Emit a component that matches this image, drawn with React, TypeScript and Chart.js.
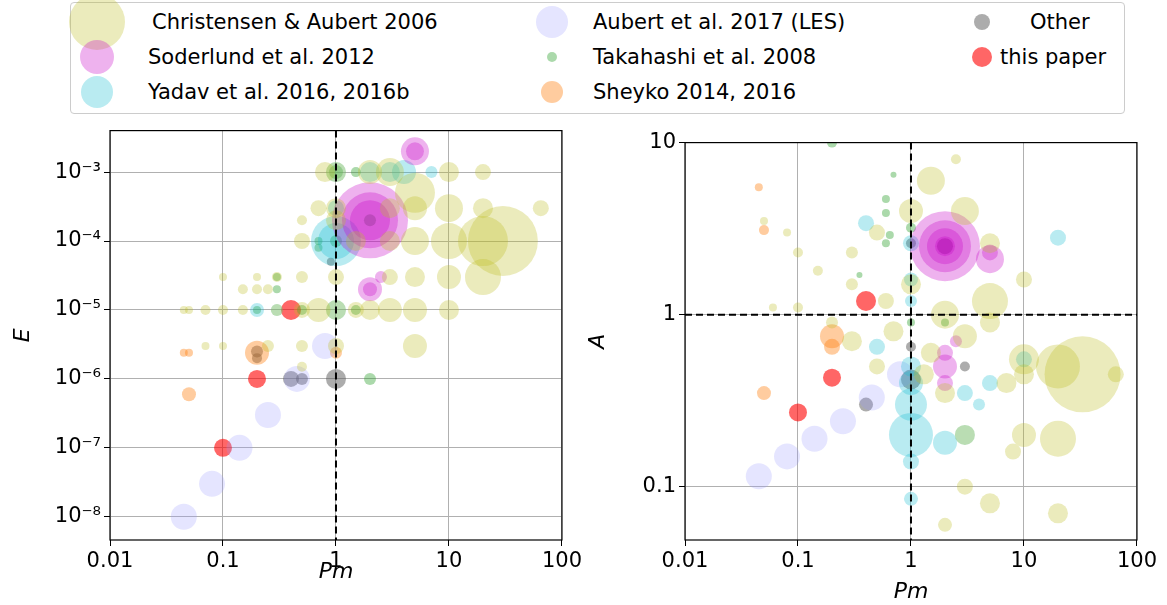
import React, { useEffect, useRef } from 'react';
import Chart from 'chart.js/auto';

type P = [number, number, number];

// Left panel: [Pm, E, radius]
const caLeft: P[] = [[1,1e-3,10],[2,1e-3,12],[3,1e-3,14],[5,5e-4,20],[10,1e-3,10],[20,1e-3,8],[1,3e-4,10],[3,3e-4,10],[5,3e-4,12],[10,3e-4,14],[20,3e-4,10],[65,3e-4,8],[30,1e-4,35],[20,1e-4,25],[10,1e-4,18],[5,1e-4,14],[3,1e-4,10],[1.5,1e-4,10],[0.5,1e-4,8],[20,3e-5,18],[10,3e-5,12],[5,3e-5,10],[3,3e-5,8],[1,3e-5,8],[0.5,3e-5,6],[0.3,3e-5,5],[0.2,3e-5,4],[0.1,3e-5,4],[10,1e-5,10],[5,1e-5,12],[3,1e-5,12],[2,1e-5,10],[1.5,1e-5,8],[1,1e-5,10],[0.7,1e-5,12],[0.5,1e-5,8],[0.3,1e-5,6],[0.15,1e-5,5],[0.1,1e-5,5],[0.07,1e-5,5],[0.05,1e-5,4],[0.045,1e-5,4],[0.2,2e-5,5],[0.25,2e-5,5],[0.15,2e-5,5],[5,3e-6,12],[1,3e-6,8],[0.5,3e-6,6],[0.25,3e-6,6],[0.1,3e-6,4],[0.07,3e-6,4],[0.5,1.5e-6,5],[1,2e-4,10],[0.7,3e-4,8],[0.5,2e-4,5],[0.8,1e-3,10]];
const sodLeft: P[] = [[2,2e-4,38],[2,2e-4,28],[2,2e-4,20],[5,2e-3,14],[5,2e-3,9],[2,2e-5,12],[2,2e-5,7],[2.5,3e-5,6]];
const yadLeft: P[] = [[1,1e-4,25],[1,1e-4,18],[1,1e-5,10],[1,1e-3,10],[2,1e-3,10],[3,1e-3,10],[4,1e-3,12],[7,1e-3,6],[1,3e-4,8],[0.2,1e-5,7],[0.3,1e-5,6]];
const lesLeft: P[] = [[0.045,1e-8,13],[0.08,3e-8,13],[0.14,1e-7,13],[0.25,3e-7,13],[0.45,1e-6,13],[0.8,3e-6,13]];
const takLeft: P[] = [[0.7,1e-4,4],[0.7,8e-5,4],[0.3,3e-5,4],[0.2,1e-5,4],[0.5,1e-5,5],[1,1e-4,6],[1,1e-3,7],[2,2e-4,6],[2,1e-6,6],[1.5,1e-5,5],[0.3,2e-5,4],[1.5,1e-3,5]];
const sheLeft: P[] = [[0.05,6e-7,7],[0.045,2.4e-6,4],[0.05,2.4e-6,4],[0.2,2.4e-6,12],[1,2.4e-6,6]];
const othLeft: P[] = [[1,1e-6,10],[0.4,1e-6,8],[0.2,2.5e-6,6],[0.2,2e-6,5],[0.9,5e-5,4],[0.5,1e-6,6]];
const redLeft: P[] = [[0.1,1e-7,9],[0.2,1e-6,9],[0.4,1e-5,10]];

// Right panel: [Pm, A, radius]
const caRight: P[] = [[33,0.45,38],[20,0.5,22],[10,0.55,15],[20,0.19,18],[10,0.2,12],[10,0.45,10],[5,1.2,18],[3,4,14],[1.5,6,14],[1,4,12],[0.5,3,8],[0.3,2.3,6],[1,1.5,10],[2,1,14],[3,0.75,12],[5,0.9,10],[7,0.4,10],[0.5,0.5,8],[0.3,0.7,10],[0.2,0.9,6],[0.1,2.3,5],[0.08,3,4],[0.05,3.5,4],[0.7,0.8,10],[1.5,0.6,10],[2,0.35,10],[3,0.2,10],[3,0.1,8],[5,0.08,10],[2,0.06,7],[20,0.07,10],[1.3,0.45,10],[0.6,1.2,8],[0.3,1.5,6],[0.15,1.8,5],[0.1,1.1,5],[0.06,1.1,4],[5,2.6,10],[10,1.6,8],[65,0.45,8],[8,0.16,8],[2.5,8,5]];
const sodRight: P[] = [[2,2.5,35],[2,2.5,26],[2,2.5,18],[2,2.5,10],[5,2.1,14],[5,2.3,8],[2,0.5,12],[2,0.6,8],[2,0.4,8],[2.5,0.7,6]];
const yadRight: P[] = [[1,0.2,22],[1,0.3,16],[1,0.4,12],[1,0.5,10],[2,0.18,12],[3,0.2,10],[0.4,3.4,8],[20,2.8,8],[5,0.4,8],[1,0.085,7],[1,2.6,8],[1,1.6,7],[1,1.2,6],[10,0.55,8],[0.5,0.65,8],[3,0.35,8],[1,0.14,8],[4,0.3,6]];
const lesRight: P[] = [[0.045,0.115,13],[0.08,0.15,13],[0.14,0.19,13],[0.25,0.24,13],[0.45,0.33,13],[0.8,0.45,13]];
const takRight: P[] = [[0.2,10,5],[0.7,6.5,3],[0.6,4.7,4],[0.6,3.9,4],[0.6,2.6,4],[1,3.2,5],[0.65,2.9,4],[0.35,1.7,3],[1,0.9,4],[2,0.9,4]];
const sheRight: P[] = [[0.045,5.5,4],[0.05,3.1,5],[0.05,0.35,7],[0.2,0.75,12],[0.2,0.65,8]];
const othRight: P[] = [[1,0.42,10],[0.4,0.3,7],[2,2.5,8],[1,2.6,5],[3,0.5,5],[1,0.65,5]];
const redRight: P[] = [[0.1,0.27,9],[0.2,0.43,9],[0.4,1.2,10]];

const xTicks = [0.01, 0.1, 1, 10, 100];
const xTickLabels = ['0.01', '0.1', '1', '10', '100'];
const eTicks = [1e-8, 1e-7, 1e-6, 1e-5, 1e-4, 1e-3];
const eTickLabels = ['10⁻⁸', '10⁻⁷', '10⁻⁶', '10⁻⁵', '10⁻⁴', '10⁻³'];
const aTicks = [0.1, 1, 10];
const aTickLabels = ['0.1', '1', '10'];

const series = [
  { label: 'Christensen & Aubert 2006', color: 'rgba(188,189,34,0.3)', mk: 28 },
  { label: 'Soderlund et al. 2012', color: 'rgba(200,0,200,0.3)', mk: 17 },
  { label: 'Yadav et al. 2016, 2016b', color: 'rgba(23,190,207,0.3)', mk: 16 },
  { label: 'Aubert et al. 2017 (LES)', color: 'rgba(150,150,255,0.25)', mk: 16 },
  { label: 'Takahashi et al. 2008', color: 'rgba(44,160,44,0.4)', mk: 5 },
  { label: 'Sheyko 2014, 2016', color: 'rgba(255,127,14,0.4)', mk: 11 },
  { label: 'Other', color: 'rgba(90,90,90,0.5)', mk: 8 },
  { label: 'this paper', color: 'rgba(255,0,0,0.6)', mk: 10 },
];

const FONT = 'DejaVu Sans';

function Panel(props: { sets: P[][]; yMin: number; yMax: number; yTicks: number[]; yLabels: string[]; yTitle: string; hLine: boolean; xAxisH: number; h: number }) {
  const ref = useRef<HTMLCanvasElement>(null);
  useEffect(() => {
    if (!ref.current) return;
    const dashPlugin = {
      id: 'dash',
      afterDatasetsDraw(chart: any) {
        const { ctx, chartArea: a, scales } = chart;
        ctx.save();
        ctx.strokeStyle = '#000';
        ctx.lineWidth = 2;
        ctx.setLineDash([7, 4]);
        const x = scales.x.getPixelForValue(1);
        ctx.beginPath(); ctx.moveTo(x, a.top); ctx.lineTo(x, a.bottom); ctx.stroke();
        if (props.hLine) {
          const y = scales.y.getPixelForValue(1);
          ctx.beginPath(); ctx.moveTo(a.left, y); ctx.lineTo(a.right, y); ctx.stroke();
        }
        ctx.setLineDash([]);
        ctx.lineWidth = 1.2;
        ctx.strokeRect(a.left, a.top, a.right - a.left, a.bottom - a.top);
        ctx.restore();
      },
    };
    const chart = new Chart(ref.current, {
      type: 'bubble',
      data: {
        datasets: props.sets.map((s, i) => ({
          label: series[i].label,
          data: s.map(p => ({ x: p[0], y: p[1], r: p[2] })),
          backgroundColor: series[i].color,
          borderWidth: 0,
          clip: 0,
        })),
      },
      options: {
        animation: false,
        responsive: false,
        layout: { autoPadding: false, padding: { top: 5, right: 10, left: 0, bottom: 0 } },
        plugins: { legend: { display: false }, tooltip: { enabled: false } },
        scales: {
          x: {
            type: 'logarithmic', min: 0.01, max: 100,
            afterBuildTicks: (s: any) => { s.ticks = xTicks.map(v => ({ value: v })); },
            afterFit: (s: any) => { s.height = props.xAxisH; },
            ticks: { callback: (_v: any, i: number) => xTickLabels[i], color: '#000', font: { family: FONT, size: 21 }, maxRotation: 0, autoSkip: false },
            grid: { color: '#b0b0b0', drawTicks: true, tickLength: 6, tickColor: '#000' },
            border: { display: false },
            title: { display: true, text: 'Pm', color: '#000', font: { family: FONT, size: 22, style: 'italic' }, padding: 0 },
          },
          y: {
            type: 'logarithmic', min: props.yMin, max: props.yMax,
            afterBuildTicks: (s: any) => { s.ticks = props.yTicks.map(v => ({ value: v })); },
            afterFit: (s: any) => { s.width = 100; },
            ticks: { callback: (_v: any, i: number) => props.yLabels[i], color: '#000', font: { family: FONT, size: 21 }, autoSkip: false },
            grid: { color: '#b0b0b0', drawTicks: true, tickLength: 6, tickColor: '#000' },
            border: { display: false },
            title: { display: true, text: props.yTitle, color: '#000', font: { family: FONT, size: 22, style: 'italic' }, padding: 0 },
          },
        },
      } as any,
      plugins: [dashPlugin],
    });
    return () => chart.destroy();
  }, []);
  return <canvas ref={ref} width={575} height={props.h} />;
}

export default function App() {
  return (
    <div style={{ position: 'absolute', left: 0, top: 0, width: 1167, height: 605, background: '#fff', fontFamily: FONT }}>
      <div style={{ position: 'absolute', left: 70, top: 2, width: 1053, height: 110, border: '1px solid #ccc', borderRadius: 4 }} />
      <div style={{ position: 'absolute', left: 10, top: 115 }}>
        <Panel sets={[caLeft, sodLeft, yadLeft, lesLeft, takLeft, sheLeft, othLeft, redLeft]} yMin={4.6e-9} yMax={4e-3} yTicks={eTicks} yLabels={eTickLabels} yTitle="E" hLine={false} xAxisH={45} h={470} />
      </div>
      <div style={{ position: 'absolute', left: 585, top: 127 }}>
        <Panel sets={[caRight, sodRight, yadRight, lesRight, takRight, sheRight, othRight, redRight]} yMin={0.049} yMax={10} yTicks={aTicks} yLabels={aTickLabels} yTitle="A" hLine={true} xAxisH={65} h={478} />
      </div>
      {series.map((s, i) => {
        const col = Math.floor(i / 3);
        const row = i % 3;
        const mx = [97, 552, 982][col];
        const tx = [148, 593, 1000][col];
        const y = [22, 57, 92][row];
        return (
          <React.Fragment key={i}>
            <div style={{ position: 'absolute', left: mx - s.mk, top: y - s.mk, width: s.mk * 2, height: s.mk * 2, borderRadius: '50%', background: s.color }} />
            <div style={{ position: 'absolute', left: i === 6 ? 1030 : i === 0 ? 152 : tx, top: y - 14, fontSize: 21, lineHeight: '28px', whiteSpace: 'nowrap' }}>{s.label}</div>
          </React.Fragment>
        );
      })}
    </div>
  );
}
